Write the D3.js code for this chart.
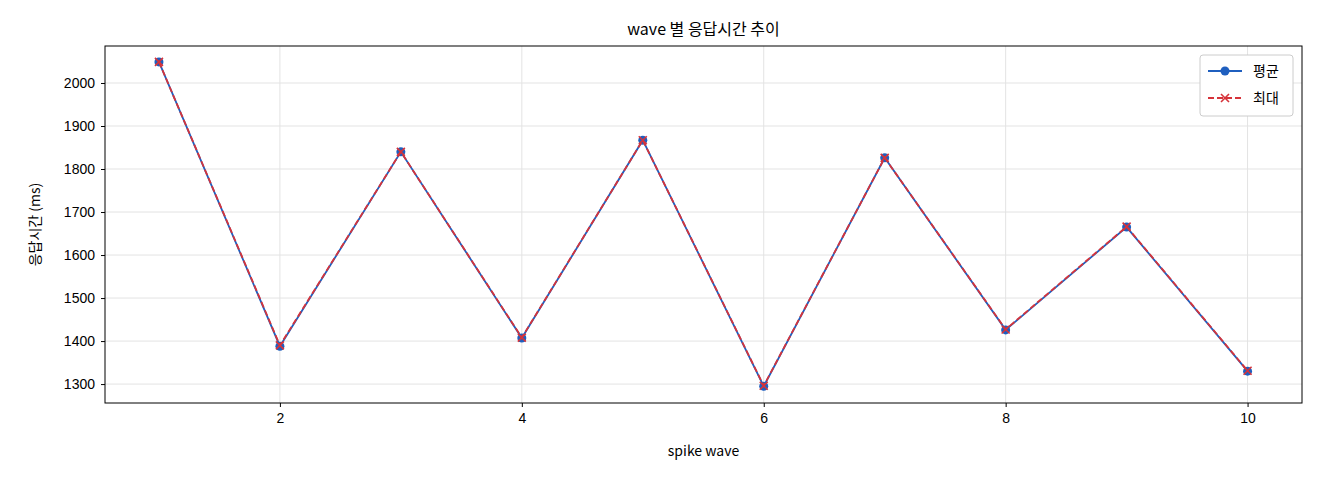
<!DOCTYPE html>
<html><head><meta charset="utf-8">
<script src="https://cdn.jsdelivr.net/npm/d3@7"></script>
<style>body{margin:0;background:#fff;font-family:"Noto Sans CJK KR","DejaVu Sans",sans-serif}</style>
</head><body><svg id="c" width="1320" height="480"></svg>
<script>
// data
const waves = [1, 2, 3, 4, 5, 6, 7, 8, 9, 10];
const avgMs = [2049, 1388, 1840, 1407, 1867, 1295, 1826, 1426, 1665, 1330];
const maxMs = [2049, 1390, 1840, 1408, 1867, 1296, 1826, 1427, 1666, 1331];
const xTicks = [2, 4, 6, 8, 10];
const yTicks = [1300, 1400, 1500, 1600, 1700, 1800, 1900, 2000];

const m = {l: 105, r: 18, t: 46, b: 77};
const W = 1320, H = 480;
const svg = d3.select('#c');
const x = d3.scaleLinear().domain([0.554, 10.45]).range([m.l, W - m.r]);
const y = d3.scaleLinear().domain([1256, 2086]).range([H - m.b, m.t]);

// grid
svg.append('g').selectAll('line').data(xTicks).join('line')
  .attr('x1', d => x(d)).attr('x2', d => x(d)).attr('y1', m.t).attr('y2', H - m.b)
  .attr('stroke', '#e3e3e3');
svg.append('g').selectAll('line').data(yTicks).join('line')
  .attr('y1', d => y(d)).attr('y2', d => y(d)).attr('x1', m.l).attr('x2', W - m.r)
  .attr('stroke', '#e3e3e3');

const xa = svg.append('g').attr('transform', `translate(0,${H - m.b})`)
  .call(d3.axisBottom(x).tickValues(xTicks).tickSize(4).tickPadding(6));
const ya = svg.append('g').attr('transform', `translate(${m.l},0)`)
  .call(d3.axisLeft(y).tickValues(yTicks).tickFormat(d3.format('d')).tickSize(4).tickPadding(6));
[xa, ya].forEach(a => { a.selectAll('text').attr('font-size', 14).attr('fill', '#000'); a.select('.domain').remove(); });

svg.append('rect').attr('x', m.l).attr('y', m.t).attr('width', W - m.l - m.r).attr('height', H - m.t - m.b)
  .attr('fill', 'none').attr('stroke', '#000');

const line = d3.line().x((d, i) => x(waves[i])).y(d => y(d));
svg.append('path').datum(avgMs).attr('d', line).attr('fill', 'none').attr('stroke', '#1f5fbf').attr('stroke-width', 1.8);
svg.selectAll('.dot').data(avgMs).join('circle').attr('cx', (d, i) => x(waves[i])).attr('cy', d => y(d))
  .attr('r', 4.5).attr('fill', '#1f5fbf');
svg.append('path').datum(maxMs).attr('d', line).attr('fill', 'none').attr('stroke', '#d6333a')
  .attr('stroke-width', 1.8).attr('stroke-dasharray', '6,3');
const cross = (g, cx, cy) => g.append('path').attr('d', `M${cx-4},${cy-4}L${cx+4},${cy+4}M${cx-4},${cy+4}L${cx+4},${cy-4}`)
  .attr('stroke', '#d6333a').attr('stroke-width', 1.6);
maxMs.forEach((d, i) => cross(svg, x(waves[i]), y(d)));

svg.append('text').attr('x', (m.l + W - m.r) / 2).attr('y', 35).attr('text-anchor', 'middle').attr('font-size', 16).text('wave 별 응답시간 추이');
svg.append('text').attr('x', (m.l + W - m.r) / 2).attr('y', 456).attr('text-anchor', 'middle').attr('font-size', 14).text('spike wave');
svg.append('text').attr('transform', `translate(40,${(m.t + H - m.b) / 2}) rotate(-90)`).attr('text-anchor', 'middle').attr('font-size', 14).text('응답시간 (ms)');

// legend
const lg = svg.append('g').attr('transform', 'translate(1200,55)');
lg.append('rect').attr('width', 93).attr('height', 61).attr('rx', 3).attr('fill', '#fff').attr('stroke', '#ccc');
lg.append('line').attr('x1', 8).attr('x2', 42).attr('y1', 16).attr('y2', 16).attr('stroke', '#1f5fbf').attr('stroke-width', 1.8);
lg.append('circle').attr('cx', 25).attr('cy', 16).attr('r', 4.5).attr('fill', '#1f5fbf');
lg.append('line').attr('x1', 8).attr('x2', 42).attr('y1', 43).attr('y2', 43).attr('stroke', '#d6333a').attr('stroke-width', 1.8).attr('stroke-dasharray', '6,3');
cross(lg, 25, 43);
lg.append('text').attr('x', 53).attr('y', 21).attr('font-size', 14).text('평균');
lg.append('text').attr('x', 53).attr('y', 48).attr('font-size', 14).text('최대');
</script></body></html>
